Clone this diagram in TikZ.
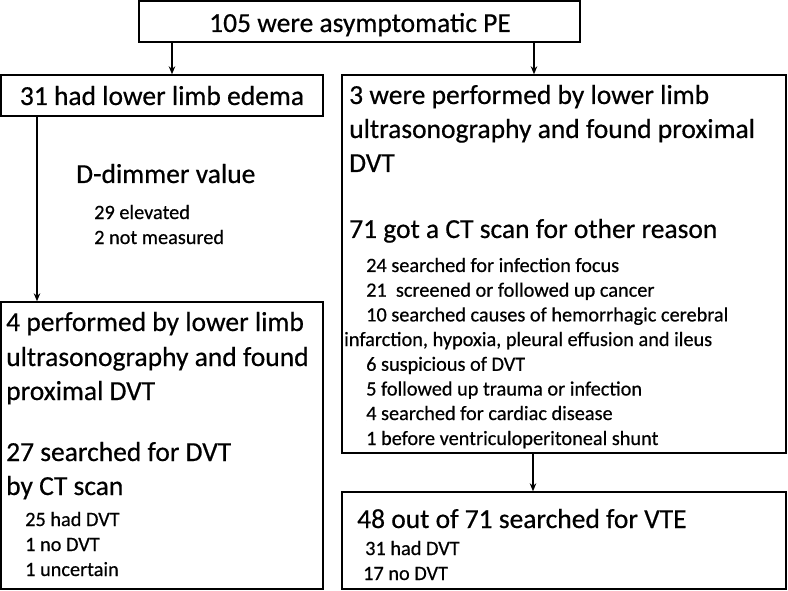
\documentclass[tikz,border=0pt]{standalone}
\usepackage{fontspec}
\setmainfont{Carlito}[FakeBold=0.5]
\usetikzlibrary{arrows.meta}
\begin{document}
\begin{tikzpicture}[x=1pt,y=-1pt,
  box/.style={draw, line width=1.4pt, inner sep=0pt},
  big/.style={font=\fontsize{27.5}{33}\selectfont, anchor=base west, inner sep=0pt},
  small/.style={font=\fontsize{20.3}{24}\selectfont, anchor=base west, inner sep=0pt},
  arr/.style={-{Stealth[length=8pt,width=6.5pt]}, line width=1.2pt}]
\useasboundingbox (0,0) rectangle (788,591);
\fill[white] (0,0) rectangle (788,591);
% boxes
\node[box, minimum width=441pt, minimum height=41pt] (top) at (359.5,21.5) {};
\node[box, minimum width=322pt, minimum height=41pt] (edema) at (162,95.5) {};
\node[box, minimum width=444pt, minimum height=378pt] (usg) at (564,264) {};
\node[box, minimum width=322pt, minimum height=287pt] (left2) at (162,445.5) {};
\node[box, minimum width=444pt, minimum height=97pt] (vte) at (564,540.5) {};
% arrow columns
\coordinate (c1) at (172,0);
\coordinate (c2) at (534,0);
\coordinate (c3) at (37,0);
\coordinate (c4) at (533,0);
\draw[arr] (top.south -| c1) -- (edema.north -| c1);
\draw[arr] (top.south -| c2) -- (usg.north -| c2);
\draw[arr] (edema.south -| c3) -- (left2.north -| c3);
\draw[arr] (usg.south -| c4) -- (vte.north -| c4);
% texts
\node[big, anchor=base] (t0) at (360,32) {105 were asymptomatic PE};
\node[big, anchor=base] (t1) at (162,105) {31 had lower limb edema};
\node[big] (dd) at (76,183) {D-dimmer value};
\node[small] (dd1) at (94,219) {29 elevated};
\node[small] (dd2) at (94,244) {2 not measured};
% right box
\node[big] (r1) at (349,104) {3 were performed by lower limb};
\node[big] (r2) at (349,138) {ultrasonography and found proximal};
\node[big] (r3) at (349,172) {DVT};
\node[big] (r4) at (349,238) {71 got a CT scan for other reason};
\node[small] (s1) at (366,272) {24 searched for infection focus};
\node[small] (s2) at (366,296.7) {21 \ screened or followed up cancer};
\node[small] (s3) at (366,321.4) {10 searched causes of hemorrhagic cerebral};
\node[small] (s4) at (344,346) {infarction, hypoxia, pleural effusion and ileus};
\node[small] (s5) at (366,370.8) {6 suspicious of DVT};
\node[small] (s6) at (366,395.5) {5 followed up trauma or infection};
\node[small] (s7) at (366,420) {4 searched for cardiac disease};
\node[small] (s8) at (366,445) {1 before ventriculoperitoneal shunt};
% left bottom box
\node[big] (l1) at (6,331) {4 performed by lower limb};
\node[big] (l2) at (6,366) {ultrasonography and found};
\node[big] (l3) at (6,400) {proximal DVT};
\node[big] (l4) at (6,461) {27 searched for DVT};
\node[big] (l5) at (6,495) {by CT scan};
\node[small] (l6) at (25,526) {25 had DVT};
\node[small] (l7) at (25,551) {1 no DVT};
\node[small] (l8) at (25,576) {1 uncertain};
% bottom right box
\node[big] (v1) at (357,528) {48 out of 71 searched for VTE};
\node[small] (v2) at (365,555) {31 had DVT};
\node[small] (v3) at (363,580) {17 no DVT};
\end{tikzpicture}
\end{document}
